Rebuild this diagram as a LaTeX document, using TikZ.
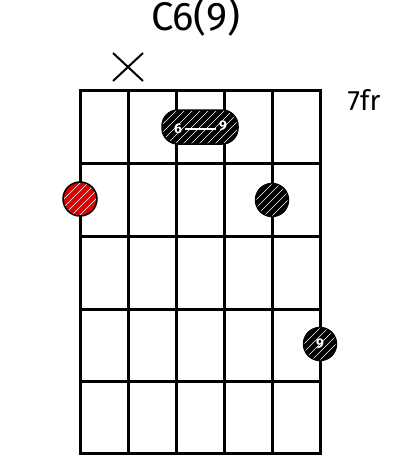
\documentclass[tikz,border=0pt]{standalone}
\usepackage{fontspec}
\setmainfont{Fira Sans}
\usetikzlibrary{calc}
\begin{document}
\begin{tikzpicture}[x=1pt,y=-1pt,
  gridline/.style={line width=3pt, line cap=rect},
  hatch/.style={path picture={
      \foreach \i in {-40,-32,...,40}
        \draw[white, line width=0.6pt]
          ($(path picture bounding box.center)+(\i-20,20)$) -- ++(40,-40);}},
  dotblack/.style={circle, draw=black, line width=1.5pt, fill=black, minimum size=33pt, inner sep=0pt, hatch},
  dotred/.style={circle, draw=black, line width=1.5pt, fill=red!85!black, minimum size=34pt, inner sep=0pt, hatch},
  barre/.style={rectangle, rounded corners=16pt, draw=black, line width=1.5pt, fill=black, minimum width=76pt, minimum height=34pt, hatch},
  lbl/.style={text=white, font=\fontsize{14}{14}\selectfont\bfseries, inner sep=0pt}
]
\useasboundingbox (0,0) rectangle (400,460);
% grid
\foreach \y in {90,163,236,309,381,453} \draw[gridline] (80,\y) -- (320,\y);
\foreach \x in {80,128,176,224,272,320} \draw[gridline] (\x,90) -- (\x,453);
% title
\node[font=\fontsize{40}{40}\selectfont] (title) at (196,17) {C6(9)};
\node[font=\fontsize{28}{28}\selectfont] (fr) at (364,100) {7fr};
% muted string
\coordinate (xa) at (113,53); \coordinate (xb) at (143,81);
\coordinate (xc) at (143,53); \coordinate (xd) at (113,81);
\draw[line width=2pt] (xa) -- (xb);
\draw[line width=2pt] (xc) -- (xd);
% barre
\node[barre] (b) at (200,127) {};
\node[lbl] (b6) at (178,129) {6};
\node[lbl] (b9) at (223,126) {9};
\draw[white, line width=1.5pt] ($(b6.east)+(3,0)$) coordinate (bl) -- ($(b9.west)+(-3,3)$) coordinate (br);
% dots
\node[dotred] (r) at (80,199) {};
\node[dotblack] (d2) at (272,200) {};
\node[dotblack] (d3) at (320,344) {};
\node[lbl] (d3l) at (320,344) {9};
\end{tikzpicture}
\end{document}
